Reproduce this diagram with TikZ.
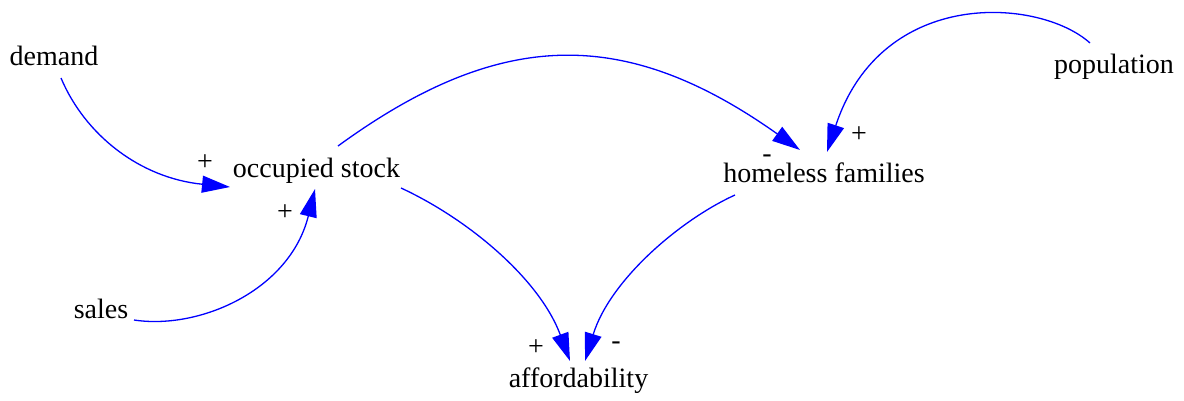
\documentclass[tikz,border=0pt]{standalone}
\usepackage{fontspec}
\setmainfont{Liberation Serif}
\usetikzlibrary{arrows.meta}
\begin{document}
\begin{tikzpicture}[x=1pt,y=-1pt,
  lbl/.style={inner sep=0pt,anchor=base,font=\fontsize{28}{34}\selectfont},
  sgn/.style={inner sep=0pt,anchor=base,font=\fontsize{28}{34}\selectfont},
  arr/.style={draw=blue,line width=1.3pt,-{Triangle[length=28pt,width=17pt]},fill=none}]
\useasboundingbox (0,0) rectangle (1184,400);
\node[lbl] (demand) at (54,65) {demand};
\node[lbl] (occ) at (316.5,177) {occupied stock};
\node[lbl] (home) at (824,182) {homeless families};
\node[lbl] (pop) at (1114,73) {population};
\node[lbl] (sales) at (101,318) {sales};
\node[lbl] (aff) at (578.5,387) {affordability};
% signs
\node[sgn] (s1) at (205,170) {+};
\node[sgn] (s2) at (285,220) {+};
\node[sgn] (s3) at (767,162) {-};
\node[sgn] (s4) at (859,142) {+};
\node[sgn] (s5) at (536,355) {+};
\node[sgn] (s6) at (616,349) {-};
% connectors
\draw[arr] ([shift={(7,13)}]demand.base) .. controls (85,135) and (140,178) .. ([shift={(-86.5,10)}]occ.base);
\draw[arr] ([shift={(33,2)}]sales.base) .. controls (200,330) and (290,290) .. ([shift={(-1.5,12)}]occ.base);
\draw[arr] ([shift={(21.5,-31)}]occ.base) .. controls (500,28) and (625,26) .. ([shift={(-24,-32)}]home.base);
\draw[arr] ([shift={(-24,-30)}]pop.base) .. controls (1040,-2) and (882,-14) .. ([shift={(3,-30)}]home.base);
\draw[arr] ([shift={(84.5,11)}]occ.base) .. controls (470,220) and (540,280) .. ([shift={(-8.5,-26)}]aff.base);
\draw[arr] ([shift={(-89,13)}]home.base) .. controls (680,220) and (610,280) .. ([shift={(6.5,-26)}]aff.base);
\end{tikzpicture}
\end{document}
